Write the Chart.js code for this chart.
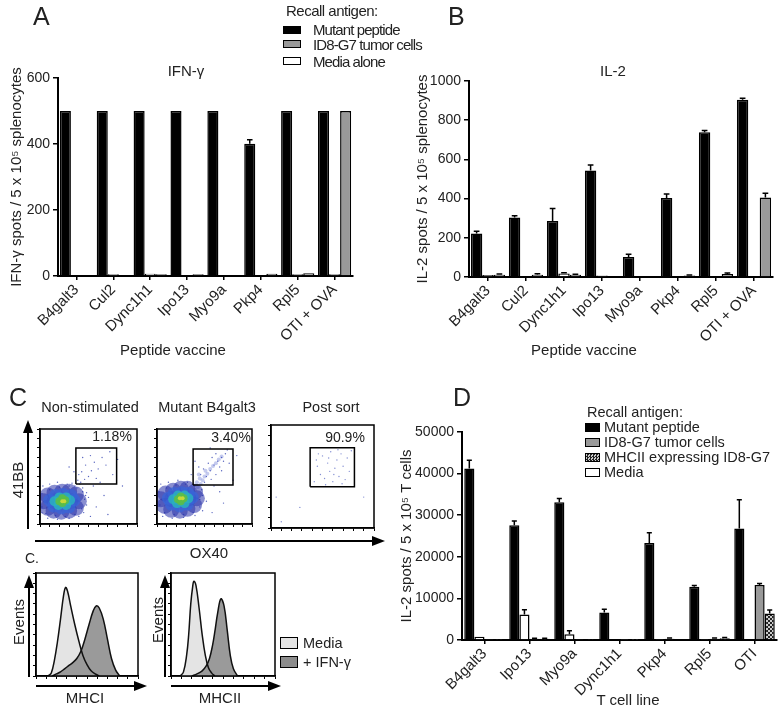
<!DOCTYPE html>
<html lang="en">
<head>
<meta charset="UTF-8">
<title>Recall antigen ELISpot</title>
<script src="https://cdn.jsdelivr.net/npm/chart.js"></script>
<style>
  body { margin: 0; background: #fff; font-family: "Liberation Sans", Arial, sans-serif; color: #222; }
  #fig { position: relative; width: 782px; height: 708px; overflow: hidden; }
  canvas, .lbl, .sw, svg { position: absolute; }
  .lbl { white-space: nowrap; line-height: 1; }
  .c { transform: translate(-50%, -50%); }
  .v { transform: translate(-50%, -50%) rotate(-90deg); }
  .l { transform: translateY(-50%); }
  .sw { border: 1.5px solid #000; box-sizing: border-box; }
  .big { font-size: 25px; }
</style>
</head>
<body>
<div id="fig">
  <canvas id="chartA" width="392" height="360" style="left:0;top:0"></canvas>
  <canvas id="chartB" width="392" height="360" style="left:390px;top:0"></canvas>
  <canvas id="chartD" width="392" height="328" style="left:390px;top:380px"></canvas>
  <canvas id="flow1" width="113" height="111" style="left:32px;top:421px"></canvas>
  <canvas id="flow2" width="111" height="111" style="left:149px;top:421px"></canvas>
  <canvas id="flow3" width="111" height="111" style="left:267px;top:421px"></canvas>
  <canvas id="hist1" width="107" height="108" style="left:33px;top:571px"></canvas>
  <canvas id="hist2" width="109" height="108" style="left:168px;top:571px"></canvas>

  <svg width="782" height="708" style="left:0;top:0">
    <g stroke="#000" stroke-width="2">
      <line x1="28" y1="529" x2="28" y2="430"/>
      <line x1="35" y1="541" x2="374" y2="541"/>
      <line x1="36" y1="686" x2="136" y2="686"/>
      <line x1="171" y1="686" x2="270" y2="686"/>
      <line x1="29" y1="677" x2="29" y2="585"/>
      <line x1="165" y1="677" x2="165" y2="585"/>
    </g>
    <g fill="#000">
      <polygon points="28,420 23,433 33,433"/>
      <polygon points="385,541 372,536 372,546"/>
      <polygon points="147,686 134,681 134,691"/>
      <polygon points="281,686 268,681 268,691"/>
      <polygon points="29,575 24,588 34,588"/>
      <polygon points="165,575 160,588 170,588"/>
    </g>
  </svg>

  <div class="lbl big" style="left:33px;top:4px">A</div>
  <div class="lbl big" style="left:448px;top:4px">B</div>
  <div class="lbl big" style="left:9px;top:385px">C</div>
  <div class="lbl big" style="left:453px;top:385px">D</div>

  <div class="lbl c" style="left:186px;top:70px;font-size:15px">IFN-γ</div>
  <div class="lbl c" style="left:613px;top:70px;font-size:15px">IL-2</div>
  <div class="lbl c" style="left:173px;top:349px;font-size:15px">Peptide vaccine</div>
  <div class="lbl c" style="left:584px;top:349px;font-size:15px">Peptide vaccine</div>
  <div class="lbl c" style="left:628px;top:699px;font-size:15px">T cell line</div>

  <div class="lbl l" style="left:286px;top:10px;font-size:15px;letter-spacing:-0.5px">Recall antigen:</div>
  <div class="sw" style="left:283px;top:26px;width:18px;height:8px;background:#000"></div>
  <div class="sw" style="left:283px;top:40px;width:18px;height:8px;background:#999"></div>
  <div class="sw" style="left:283px;top:57px;width:18px;height:8px;background:#fff"></div>
  <div class="lbl l" style="left:313px;top:29px;font-size:15px;letter-spacing:-0.9px">Mutant peptide</div>
  <div class="lbl l" style="left:313px;top:44px;font-size:15px;letter-spacing:-0.9px">ID8-G7 tumor cells</div>
  <div class="lbl l" style="left:313px;top:61px;font-size:15px;letter-spacing:-0.9px">Media alone</div>

  <div class="lbl l" style="left:587px;top:412px;font-size:14.5px">Recall antigen:</div>
  <div class="sw" style="left:585px;top:423px;width:15px;height:9px;background:#000"></div>
  <div class="sw" style="left:585px;top:438px;width:15px;height:9px;background:#999"></div>
  <div class="sw" style="left:585px;top:453px;width:15px;height:9px;background:repeating-conic-gradient(#222 0 25%, #ccc 0 50%) 0 0/3px 3px"></div>
  <div class="sw" style="left:585px;top:468px;width:15px;height:9px;background:#fff"></div>
  <div class="lbl l" style="left:604px;top:427px;font-size:14.5px">Mutant peptide</div>
  <div class="lbl l" style="left:604px;top:442px;font-size:14.5px">ID8-G7 tumor cells</div>
  <div class="lbl l" style="left:604px;top:457px;font-size:14.5px">MHCII expressing ID8-G7</div>
  <div class="lbl l" style="left:604px;top:472px;font-size:14.5px">Media</div>

  <div class="lbl c" style="left:90px;top:407px;font-size:14.5px">Non-stimulated</div>
  <div class="lbl c" style="left:207px;top:407px;font-size:14.5px">Mutant B4galt3</div>
  <div class="lbl c" style="left:331px;top:407px;font-size:14.5px">Post sort</div>
  <div class="lbl c" style="left:112px;top:436px;font-size:14px">1.18%</div>
  <div class="lbl c" style="left:231px;top:437px;font-size:14px">3.40%</div>
  <div class="lbl c" style="left:345px;top:437px;font-size:14px">90.9%</div>
  <div class="lbl v" style="left:17px;top:480px;font-size:15px">41BB</div>
  <div class="lbl c" style="left:209px;top:552px;font-size:15px">OX40</div>
  <div class="lbl l" style="left:25px;top:558px;font-size:14px">C.</div>
  <div class="lbl v" style="left:18px;top:622px;font-size:15px">Events</div>
  <div class="lbl v" style="left:157px;top:620px;font-size:15px">Events</div>
  <div class="lbl c" style="left:85px;top:697px;font-size:15px">MHCI</div>
  <div class="lbl c" style="left:220px;top:697px;font-size:15px">MHCII</div>
  <div class="sw" style="left:280px;top:637px;width:18px;height:12px;background:#e4e4e4"></div>
  <div class="sw" style="left:280px;top:656px;width:18px;height:12px;background:#8c8c8c"></div>
  <div class="lbl l" style="left:303px;top:643px;font-size:14.5px">Media</div>
  <div class="lbl l" style="left:303px;top:662px;font-size:14.5px">+ IFN-γ</div>
</div>

<script>
// panel A / B: splenocytes from vaccinated mice
const peptides = ['B4galt3', 'Cul2', 'Dync1h1', 'Ipo13', 'Myo9a', 'Pkp4', 'Rpl5', 'OTI + OVA'];
const ifnMutant = [500, 500, 500, 500, 500, 401, 500, 500];
const ifnMutantErr = [0, 0, 0, 0, 0, 12, 0, 0];
const ifnMedia = [3, 5, 7, 3, 2, 3, 5, 5];
const ifnTumor = [3, 3, 5, 5, 2, 7, 8, 500];
const il2Mutant = [222, 304, 286, 544, 102, 403, 738, 904];
const il2MutantErr = [12, 8, 63, 27, 14, 20, 10, 8];
const il2Media = [10, 5, 18, 8, 5, 5, 5, 5];
const il2MediaErr = [0, 0, 4, 0, 0, 0, 0, 0];
const il2Tumor = [12, 12, 12, 5, 5, 8, 15, 405];
const il2TumorErr = [3, 4, 2, 0, 0, 2, 6, 22];

// panel D: T cell lines
const tCellLines = ['B4galt3', 'Ipo13', 'Myo9a', 'Dync1h1', 'Pkp4', 'Rpl5', 'OTI'];
const tMutant = [41200, 27600, 33100, 6600, 23300, 12800, 26800];
const tMutantErr = [2000, 1000, 900, 800, 2500, 300, 6900];
const tMedia = [800, 6100, 1400, 150, 250, 100, 200];
const tMediaErr = [0, 1200, 800, 0, 0, 0, 0];
const tTumor = [100, 300, 100, 60, 300, 300, 13200];
const tTumorErr = [0, 100, 0, 0, 200, 200, 400];
const tMhcii = [100, 300, 100, 60, 200, 400, 6400];
const tMhciiErr = [0, 100, 0, 0, 0, 200, 800];

// panel C: flow plots, axes 0..100 (gate = [x1, x2, y1, y2])
const gateNonStim = [37, 79, 42, 80];
const gateMutant = [38, 80, 41, 79];
const gatePostSort = [38, 81, 40, 78];

const nonStimSparse = [[3,40],[10,42],[18,44],[28,42],[36,40],[44,38],[48,33],[50,28],[48,20],[45,12],[40,8],[30,6],[18,5],[8,6],[2,12],[42,44],[46,47],[40,52],[50,50],[53,56],[47,62],[56,65],[60,58],[64,70],[52,72],[68,62],[58,48],[72,76],[62,44],[55,40],[66,30],[58,18],[75,52],[80,68],[35,55],[30,60],[85,40],[70,10],[52,8],[44,70],[39,46],[43,55],[46,26],[44,34],[38,38],[30,40],[20,39],[10,36],[2,32],[2,18],[6,11],[16,9],[26,8],[36,10],[43,16],[47,30],[41,42],[33,43]];
const nonStimNavy = [[40,24],[37,31],[30,34],[23,34],[15,33],[8,30],[4,24],[8,17],[14,14],[22,13],[30,14],[37,17],[23,24],[15,24],[31,24]];
const nonStimBlue = [[35,25],[32,30],[24,31],[16,30],[10,25],[14,19],[22,17],[30,18],[23,24]];
const nonStimTeal = [[31,25],[27,28],[20,28],[15,24],[19,20],[27,20]];
const nonStimGreen = [[26,25],[20,24],[23,22],[23,27]];
const nonStimYellow = [[23,24],[25,24]];

const mutantSparse = [[4,42],[12,44],[22,46],[32,44],[48,30],[52,24],[48,14],[40,9],[28,7],[16,6],[6,8],[46,52],[52,50],[49,58],[56,56],[54,64],[60,62],[58,70],[64,66],[62,74],[68,70],[66,60],[72,74],[70,66],[74,78],[50,44],[57,47],[62,52],[44,60],[68,56],[76,64],[40,66],[60,40],[66,34],[80,46],[84,72],[56,80],[70,22],[58,12],[36,52],[47,36],[45,26],[40,40],[30,42],[20,41],[10,38],[2,34],[3,20],[8,12],[18,10],[28,10],[38,12],[45,18]];
const mutantStream = [[40,36],[43,39],[46,42],[42,44],[48,46],[45,48],[50,50],[53,53],[51,56],[56,58],[59,61],[62,64],[65,68],[68,71],[44,52]];
const mutantNavy = [[42,27],[40,34],[32,37],[25,37],[17,35],[9,32],[4,26],[8,19],[15,15],[24,14],[32,16],[39,20],[25,26],[16,26],[33,27]];
const mutantBlue = [[37,28],[33,32],[26,33],[18,32],[12,27],[15,21],[24,19],[32,21],[25,26]];
const mutantTeal = [[33,27],[29,30],[22,30],[17,26],[21,22],[29,22]];
const mutantGreen = [[28,27],[22,26],[25,24],[25,29]];
const mutantYellow = [[24,27],[27,27]];

const postSortSparse = [[42,45],[45,60],[48,52],[50,70],[52,48],[55,63],[57,55],[58,74],[60,45],[62,58],[64,66],[66,50],[68,72],[70,60],[72,47],[74,68],[76,55],[46,72],[53,42],[61,52],[69,43],[78,75],[44,66],[56,68],[65,76],[5,30],[10,6],[28,20],[90,30]];

// histograms, x and y on 0..100
const mhc1MediaX = [12, 15, 18, 21, 24, 27, 29, 31, 34, 38, 42, 46, 50, 54, 58, 62];
const mhc1MediaY = [0, 3, 15, 33, 55, 78, 86, 82, 68, 50, 34, 20, 11, 5, 2, 0];
const mhc1IfnX = [16, 20, 24, 28, 32, 36, 40, 44, 48, 52, 56, 59, 62, 66, 70, 74, 78, 82];
const mhc1IfnY = [0, 2, 4, 7, 10, 13, 17, 24, 36, 50, 63, 68, 66, 55, 36, 17, 6, 0];
const mhc2MediaX = [9, 12, 15, 17, 19, 21, 22, 24, 27, 30, 33, 36, 39, 42];
const mhc2MediaY = [0, 4, 20, 40, 70, 88, 92, 88, 66, 40, 20, 8, 3, 0];
const mhc2IfnX = [20, 25, 30, 34, 37, 40, 42, 45, 48, 51, 54, 57, 60, 64];
const mhc2IfnY = [0, 2, 5, 10, 17, 30, 42, 62, 75, 68, 45, 20, 7, 0];

const FONT = '"Liberation Sans", Arial, sans-serif';
Chart.defaults.font.family = FONT;
Chart.defaults.color = '#222';
Chart.defaults.animation = false;
Chart.defaults.plugins.legend.display = false;
Chart.defaults.plugins.tooltip.enabled = false;

function checker() {
    const c = document.createElement('canvas');
    c.width = 4; c.height = 4;
    const g = c.getContext('2d');
    g.fillStyle = '#222'; g.fillRect(0, 0, 4, 4);
    g.fillStyle = '#ccc'; g.fillRect(0, 0, 2, 2); g.fillRect(2, 2, 2, 2);
    return g.createPattern(c, 'repeat');
}

// draws mean + SEM whiskers on top of bars
const errorBars = {
    id: 'errorBars',
    afterDatasetsDraw(chart) {
        const ctx = chart.ctx;
        const y = chart.scales.y;
        chart.data.datasets.forEach((ds, i) => {
            if (!ds.errors) return;
            chart.getDatasetMeta(i).data.forEach((bar, j) => {
                const err = ds.errors[j];
                if (!err) return;
                const top = y.getPixelForValue(ds.data[j] + err);
                const half = bar.width / 4;
                ctx.save();
                ctx.strokeStyle = '#000';
                ctx.lineWidth = 1.5;
                ctx.beginPath();
                ctx.moveTo(bar.x, bar.y);
                ctx.lineTo(bar.x, top);
                ctx.moveTo(bar.x - half, top);
                ctx.lineTo(bar.x + half, top);
                ctx.stroke();
                ctx.restore();
            });
        });
    }
};

const frame = {
    id: 'frame',
    afterDraw(chart) {
        const a = chart.chartArea;
        const ctx = chart.ctx;
        ctx.save();
        ctx.strokeStyle = '#000';
        ctx.lineWidth = 1.5;
        ctx.strokeRect(a.left, a.top, a.right - a.left, a.bottom - a.top);
        ctx.restore();
    }
};

function barChart(id, labels, series, cfg) {
    return new Chart(document.getElementById(id), {
        type: 'bar',
        data: {
            labels: labels,
            datasets: series.map(s => ({
                data: s.data,
                errors: s.err,
                backgroundColor: s.fill,
                borderColor: '#000',
                borderWidth: 1.5,
                categoryPercentage: cfg.catPct,
                barPercentage: 1
            }))
        },
        options: {
            responsive: false,
            devicePixelRatio: 1,
            layout: { padding: cfg.padding },
            scales: {
                x: {
                    afterFit: s => { s.height = cfg.xHeight; },
                    grid: { drawOnChartArea: false, offset: false, tickLength: 4, color: '#000', lineWidth: 1.5 },
                    border: { color: '#000', width: 2 },
                    ticks: { autoSkip: false, minRotation: 45, maxRotation: 45, padding: 1, font: { size: 15 }, color: '#222' }
                },
                y: {
                    min: 0,
                    max: cfg.yMax,
                    afterFit: s => { s.width = cfg.yWidth; },
                    grid: { drawOnChartArea: false, tickLength: 5, color: '#000', lineWidth: 1.5 },
                    border: { color: '#000', width: 2 },
                    ticks: { stepSize: cfg.yStep, padding: 3, font: { size: 14 }, color: '#222', callback: v => String(v) },
                    title: { display: true, text: cfg.yTitle, font: { size: 15 }, color: '#222', padding: { top: 2, bottom: 0 } }
                }
            }
        },
        plugins: [errorBars]
    });
}

function boxScales() {
    const axis = horizontal => ({
        type: 'linear',
        min: 0,
        max: 100,
        afterFit: s => { if (horizontal) s.height = 3; else s.width = 3; },
        ticks: { display: false, stepSize: 10 },
        grid: { drawOnChartArea: false, tickLength: 3, color: '#000', lineWidth: 1 },
        border: { color: '#000', width: 1.5 }
    });
    return { x: axis(true), y: axis(false) };
}

const toXY = pts => pts.map(p => ({ x: p[0], y: p[1] }));

function flowChart(id, layers, gate) {
    const [x1, x2, y1, y2] = gate;
    const datasets = [{
        data: [{ x: x1, y: y1 }, { x: x2, y: y1 }, { x: x2, y: y2 }, { x: x1, y: y2 }, { x: x1, y: y1 }],
        showLine: true,
        borderColor: '#000',
        borderWidth: 1.5,
        pointRadius: 0,
        order: 0
    }];
    layers.forEach((l, i) => datasets.push({
        data: toXY(l.pts),
        pointRadius: l.r,
        pointBackgroundColor: l.color,
        pointBorderWidth: 0,
        clip: 0,
        order: i + 1
    }));
    return new Chart(document.getElementById(id), {
        type: 'scatter',
        data: { datasets: datasets },
        options: {
            responsive: false,
            devicePixelRatio: 1,
            layout: { padding: { top: 2, right: 2 } },
            scales: boxScales()
        },
        plugins: [frame]
    });
}

function histChart(id, ifnX, ifnY, mediaX, mediaY) {
    const line = (xs, ys, fill, order) => ({
        data: xs.map((x, i) => ({ x: x, y: ys[i] })),
        showLine: true,
        fill: 'origin',
        backgroundColor: fill,
        borderColor: '#111',
        borderWidth: 1.5,
        pointRadius: 0,
        tension: 0.4,
        clip: 0,
        order: order
    });
    return new Chart(document.getElementById(id), {
        type: 'scatter',
        data: { datasets: [line(ifnX, ifnY, '#9a9a9a', 0), line(mediaX, mediaY, '#e4e4e4', 1)] },
        options: {
            responsive: false,
            devicePixelRatio: 1,
            layout: { padding: { top: 2, right: 2 } },
            plugins: { filler: { drawTime: 'beforeDatasetsDraw' } },
            scales: boxScales()
        },
        plugins: [frame]
    });
}

barChart('chartA', peptides, [
    { data: ifnMutant, err: ifnMutantErr, fill: '#000' },
    { data: ifnMedia, fill: '#fff' },
    { data: ifnTumor, fill: '#999' }
], { yMax: 600, yStep: 200, yTitle: 'IFN-γ spots / 5 x 10⁵ splenocytes', padding: { left: 6, top: 78, right: 39, bottom: 0 }, yWidth: 52, xHeight: 84, catPct: 0.9 });

barChart('chartB', peptides, [
    { data: il2Mutant, err: il2MutantErr, fill: '#000' },
    { data: il2Media, err: il2MediaErr, fill: '#fff' },
    { data: il2Tumor, err: il2TumorErr, fill: '#999' }
], { yMax: 1000, yStep: 200, yTitle: 'IL-2 spots / 5 x 10⁵ splenocytes', padding: { left: 22, top: 81, right: 9, bottom: 0 }, yWidth: 57, xHeight: 83, catPct: 0.9 });

barChart('chartD', tCellLines, [
    { data: tMutant, err: tMutantErr, fill: '#000' },
    { data: tMedia, err: tMediaErr, fill: '#fff' },
    { data: tTumor, err: tTumorErr, fill: '#999' },
    { data: tMhcii, err: tMhciiErr, fill: checker() }
], { yMax: 50000, yStep: 10000, yTitle: 'IL-2 spots / 5 x 10⁵ T cells', padding: { left: 6, top: 52, right: 5, bottom: 0 }, yWidth: 66, xHeight: 68, catPct: 0.9 });

flowChart('flow1', [
    { pts: nonStimYellow, r: 2, color: '#c8d838' },
    { pts: nonStimGreen, r: 4, color: 'rgba(92,190,70,0.9)' },
    { pts: nonStimTeal, r: 5, color: 'rgba(42,176,192,0.85)' },
    { pts: nonStimBlue, r: 6.5, color: 'rgba(58,102,216,0.75)' },
    { pts: nonStimNavy, r: 8, color: 'rgba(40,50,170,0.55)' },
    { pts: nonStimSparse, r: 0.7, color: 'rgba(48,64,176,0.8)' }
], gateNonStim);

flowChart('flow2', [
    { pts: mutantYellow, r: 2, color: '#c8d838' },
    { pts: mutantGreen, r: 4, color: 'rgba(92,190,70,0.9)' },
    { pts: mutantTeal, r: 5, color: 'rgba(42,176,192,0.85)' },
    { pts: mutantBlue, r: 6.5, color: 'rgba(58,102,216,0.75)' },
    { pts: mutantNavy, r: 8, color: 'rgba(40,50,170,0.55)' },
    { pts: mutantStream, r: 2, color: 'rgba(60,80,200,0.3)' },
    { pts: mutantSparse, r: 0.7, color: 'rgba(48,64,176,0.8)' }
], gateMutant);

flowChart('flow3', [
    { pts: postSortSparse, r: 0.7, color: 'rgba(80,96,192,0.7)' }
], gatePostSort);

histChart('hist1', mhc1IfnX, mhc1IfnY, mhc1MediaX, mhc1MediaY);
histChart('hist2', mhc2IfnX, mhc2IfnY, mhc2MediaX, mhc2MediaY);
</script>
</body>
</html>
